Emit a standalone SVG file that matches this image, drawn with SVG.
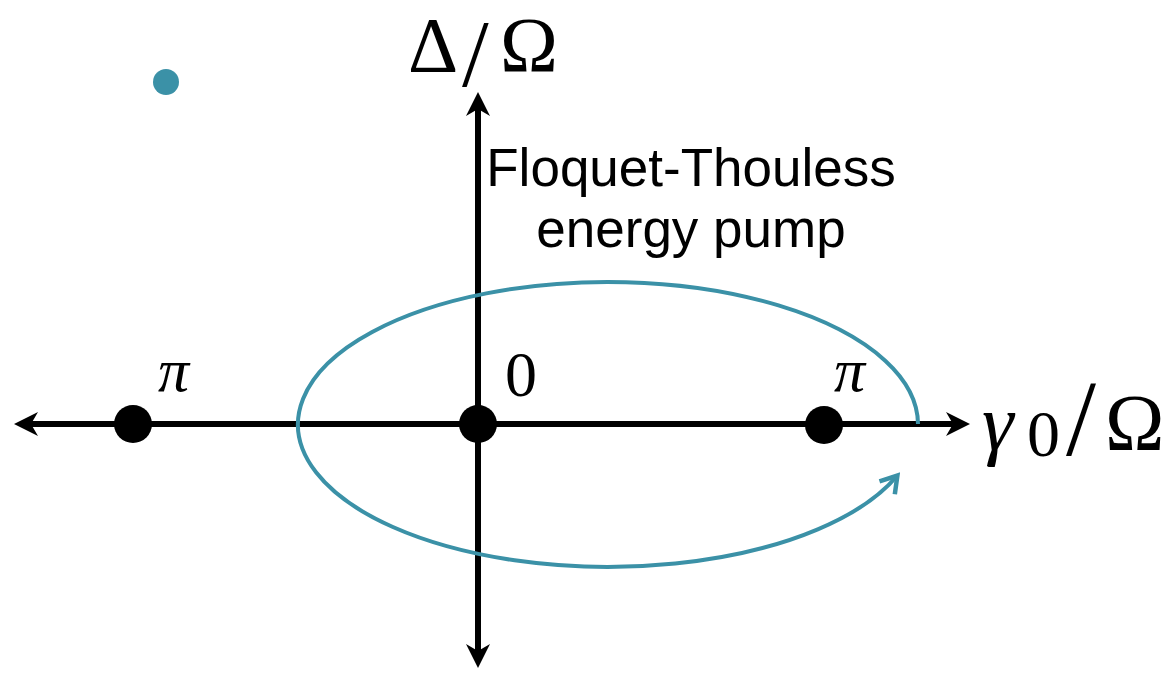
<svg xmlns="http://www.w3.org/2000/svg" width="1170" height="675" viewBox="0 0 1170 675">
<style>
.axis{stroke:#000;stroke-width:6;fill:none}
.dot{fill:#000}
.loop{stroke:#3b91a7;stroke-width:4;fill:none}
.math{font-family:"Liberation Serif","DejaVu Serif",serif;fill:#000}
.it{font-style:italic}
.lbl{font-family:"Liberation Sans",Arial,sans-serif;fill:#000;font-size:53px;text-anchor:middle}
</style>
<defs>
<marker id="ah" markerUnits="userSpaceOnUse" viewBox="-8 -13 27 26" refX="0" refY="0" markerWidth="27" markerHeight="26" orient="auto-start-reverse">
<path d="M17,0 L-7,-12 L0,0 L-7,12 Z" fill="#000"/>
</marker>
<marker id="oa" markerUnits="userSpaceOnUse" viewBox="-20 -14 24 28" refX="0" refY="0" markerWidth="24" markerHeight="28" orient="auto">
<path d="M-16,-10 L0,0 L-16,10" fill="none" stroke="#3b91a7" stroke-width="4.5" stroke-linejoin="miter"/>
</marker>
</defs>
<g id="connectors">
<line class="axis" x1="31" y1="424" x2="953" y2="424" marker-start="url(#ah)" marker-end="url(#ah)"/>
<line class="axis" x1="478" y1="109" x2="478" y2="651" marker-start="url(#ah)" marker-end="url(#ah)"/>
<path id="pump-loop" class="loop" d="M918,424 A310,142.5 0 1 0 897.4,475.5" marker-end="url(#oa)"/>
</g>
<g id="point-left-pi"><circle class="dot" cx="133" cy="424" r="19"/><text class="math it" x="158" y="391" font-size="62">π</text></g>
<g id="point-zero"><circle class="dot" cx="478" cy="424" r="19"/><text class="math" x="505" y="396" font-size="64">0</text></g>
<g id="point-right-pi"><circle class="dot" cx="824" cy="425" r="19"/><text class="math it" x="834" y="391" font-size="62">π</text></g>
<g id="legend-dot"><circle cx="166" cy="82" r="13" fill="#3b91a7"/></g>
<g id="axis-label-y"><text class="math" y="71" font-size="78"><tspan x="408">Δ</tspan><tspan x="462" y="86" font-size="96">/</tspan><tspan x="500" y="71">Ω</tspan></text></g>
<g id="axis-label-x"><text class="math" y="450" font-size="80"><tspan class="it" x="982">γ</tspan><tspan x="1027" y="456" font-size="66">0</tspan><tspan x="1066" y="455" font-size="108">/</tspan><tspan x="1105" y="450">Ω</tspan></text></g>
<g id="pump-label"><text class="lbl" x="691" y="186">Floquet-Thouless</text><text class="lbl" x="691" y="247">energy pump</text></g>
</svg>
